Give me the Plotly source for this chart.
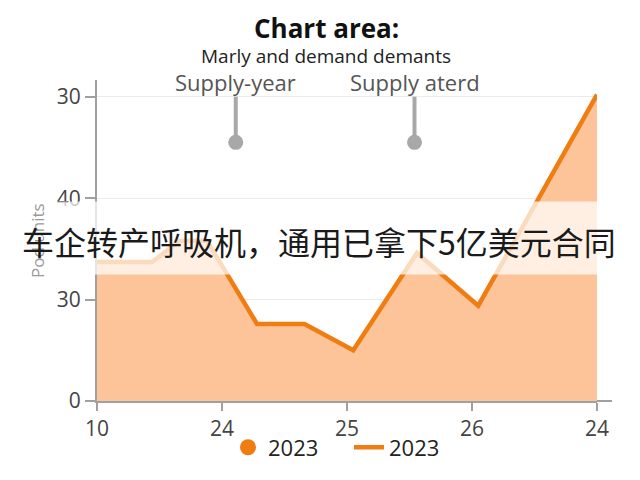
import plotly.graph_objects as go

# ---- data ----
x_pos = [0, 0.44, 0.66, 0.88, 1.28, 1.66, 2.05, 2.56, 3.05, 4.0]
values = [13.7, 13.7, 15.8, 15.8, 7.6, 7.6, 5.0, 14.6, 9.4, 30.2]
series_name = "2023"

x_tick_vals = [0, 1, 2, 3, 4]
x_tick_text = ["10", "24", "25", "26", "24"]
y_tick_vals = [0, 10, 20, 30]
y_tick_text = ["0", "30", "40", "30"]

marker_x = [1.11, 2.54]
marker_top = [30, 30]
marker_bottom = [25.5, 25.5]
marker_labels = ["Supply-year", "Supply aterd"]

title_text = "<b>Chart area:</b>"
subtitle_text = "Marly and demand demants"
banner_text = "车企转产呼吸机，通用已拿下5亿美元合同"
y_title = "Pod units"

ORANGE = "#EF7D12"
FILL = "#FDC49A"
GRAY = "#A8A8A8"

OFF = 8  # page body margin
W, H = 640 - OFF, 480 - OFF
L, T = 97 - OFF, 80 - OFF
R = W - (597 - OFF)
B = H - (405 - OFF)
PH = H - T - B
PW = W - L - R


def py_paper(py):
    """screen pixel y (from top) -> paper fraction"""
    return (H - B - (py - OFF)) / PH


def px_paper(px):
    return (px - OFF - L) / PW


fig = go.Figure()

fig.add_trace(go.Scatter(
    x=x_pos, y=values, mode="lines", name=series_name,
    line=dict(color=ORANGE, width=4.5), fill="tozeroy", fillcolor=FILL,
    showlegend=False,
))
# legend entries
fig.add_trace(go.Scatter(
    x=[None], y=[None], mode="markers", name=series_name,
    marker=dict(color=ORANGE, size=19, symbol="circle"),
))
fig.add_trace(go.Scatter(
    x=[None], y=[None], mode="lines", name=series_name,
    line=dict(color=ORANGE, width=4.5),
))

# lollipop markers
for mx, t, b in zip(marker_x, marker_top, marker_bottom):
    fig.add_trace(go.Scatter(
        x=[mx, mx], y=[t, b], mode="lines", line=dict(color=GRAY, width=4),
        showlegend=False, hoverinfo="skip",
    ))
fig.add_trace(go.Scatter(
    x=marker_x, y=marker_bottom, mode="markers",
    marker=dict(color=GRAY, size=15), showlegend=False, hoverinfo="skip",
))

annotations = [
    dict(text=title_text, x=px_paper(326), y=py_paper(8), xref="paper", yref="paper",
         xanchor="center", yanchor="top", showarrow=False, borderpad=0,
         font=dict(size=26, color="#111", family="Open Sans")),
    dict(text=subtitle_text, x=px_paper(326), y=py_paper(56), xref="paper", yref="paper",
         xanchor="center", yanchor="middle", showarrow=False, borderpad=0,
         font=dict(size=19, color="#222", family="Open Sans")),
    dict(text=y_title, x=px_paper(38), y=py_paper(243), xref="paper", yref="paper",
         xanchor="center", yanchor="middle", showarrow=False, textangle=-90,
         font=dict(size=17, color="#999", family="Open Sans")),
]
for mx, lab in zip(marker_x, marker_labels):
    annotations.append(dict(
        text=lab, x=mx, y=py_paper(82), xref="x", yref="paper", yanchor="middle",
        showarrow=False, borderpad=0,
        font=dict(size=22, color="#555", family="Open Sans"),
    ))
annotations.append(dict(
    text=banner_text, x=px_paper(319), y=py_paper(243), xref="paper", yref="paper",
    xanchor="center", yanchor="middle", showarrow=False,
    font=dict(size=32, color="#1a1a1a", family="Noto Sans CJK SC"),
))

fig.update_layout(
    width=W, height=H,
    margin=dict(l=L, r=R, t=T, b=B),
    paper_bgcolor="white", plot_bgcolor="white",
    font=dict(family="Open Sans", color="#444"),
    showlegend=True,
    legend=dict(orientation="h", x=px_paper(349), y=py_paper(452),
                xanchor="center", yanchor="middle", bgcolor="rgba(0,0,0,0)",
                font=dict(size=22, color="#222"), itemwidth=30,
                entrywidth=76, entrywidthmode="pixels"),
    annotations=annotations,
    shapes=[
        dict(type="line", xref="paper", yref="paper", x0=1, x1=1.03, y0=0, y1=0,
             line=dict(color="#A0A0A0", width=2), layer="below"),
        dict(type="rect", xref="paper", yref="paper", x0=-0.3, x1=1.2,
             y0=py_paper(277), y1=py_paper(203),
             fillcolor="rgba(255,255,255,0.72)", line=dict(width=0), layer="above"),
    ],
)
fig.update_xaxes(
    range=[0, 4], tickvals=x_tick_vals, ticktext=x_tick_text, automargin=False,
    showgrid=False, zeroline=False, showline=True, linecolor="#A0A0A0", linewidth=2,
    ticks="outside", ticklen=8, tickwidth=2, tickcolor="#A0A0A0",
    tickfont=dict(size=21, color="#444"),
)
fig.update_yaxes(
    range=[0, 31.65], tickvals=y_tick_vals, ticktext=y_tick_text, automargin=False,
    showgrid=True, gridcolor="#EBEBEB", gridwidth=1, zeroline=False,
    showline=True, linecolor="#A0A0A0", linewidth=2,
    ticks="outside", ticklen=10, tickwidth=2, tickcolor="#A0A0A0",
    tickfont=dict(size=21, color="#444"),
)

fig.write_html("out.html")
